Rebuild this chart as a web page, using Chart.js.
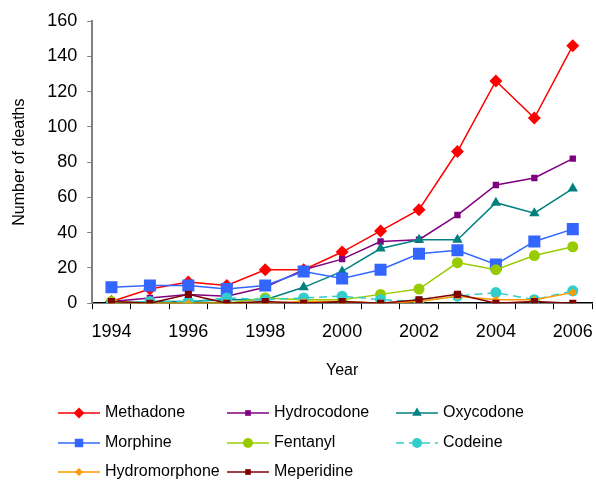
<!DOCTYPE html>
<html>
<head>
<meta charset="utf-8">
<script src="https://cdn.jsdelivr.net/npm/chart.js@4/dist/chart.umd.min.js"></script>
<style>
  body { margin: 0; background: #fff; }
  #wrap { width: 596px; height: 481px; }
</style>
</head>
<body>
<div id="wrap"><canvas id="deathsChart"></canvas></div>
<script>
const years = ['1994','1995','1996','1997','1998','1999','2000','2001','2002','2003','2004','2005','2006'];
const yTicks = [0, 20, 40, 60, 80, 100, 120, 140, 160];

const methadone     = [1, 8, 12, 10, 19, 19, 29, 41, 53, 86, 126, 105, 146];
const hydrocodone   = [1, 3, 5, 4, 9, 19, 25, 35, 36, 50, 67, 71, 82];
const oxycodone     = [0, 1, 1, 2, 2, 9, 18, 31, 36, 36, 57, 51, 65];
const morphine      = [9, 10, 10, 8, 10, 18, 14, 19, 28, 30, 22, 35, 42];
const fentanyl      = [1, 0, 0, 0, 3, 2, 2, 5, 8, 23, 19, 27, 32];
const codeine       = [0, 1, 1, 3, 2, 3, 4, 2, 1, 4, 6, 2, 7];
const hydromorphone = [0, 0, 0, 0, 0, 1, 1, 0, 1, 4, 2, 2, 6];
const meperidine    = [1, 0, 5, 0, 1, 0, 1, 0, 2, 5, 0, 1, 0];

const FONT = '"Liberation Sans", Arial, sans-serif';

function series(label, data, color, style, radius, order, dash) {
  return {
    label: label,
    data: data,
    borderColor: color,
    backgroundColor: color,
    borderWidth: 1.5,
    borderDash: dash || [],
    pointStyle: style,
    pointRadius: radius,
    pointHoverRadius: radius,
    pointBorderWidth: 0,
    tension: 0,
    order: order
  };
}

// legend laid out in three fixed columns like the original
const gridLegend = {
  id: 'gridLegend',
  afterDraw(chart) {
    const ctx = chart.ctx;
    const colX = [58, 227, 396];
    const rowY = [413, 443, 472];
    ctx.save();
    ctx.font = '16px ' + FONT;
    ctx.textBaseline = 'middle';
    chart.data.datasets.forEach((ds, i) => {
      const x = colX[i % 3];
      const y = rowY[Math.floor(i / 3)];
      ctx.strokeStyle = ds.borderColor;
      ctx.lineWidth = 1.5;
      ctx.setLineDash(ds.borderDash);
      ctx.beginPath();
      ctx.moveTo(x, y);
      ctx.lineTo(x + 42, y);
      ctx.stroke();
      ctx.setLineDash([]);
      ctx.fillStyle = ds.backgroundColor;
      Chart.helpers.drawPoint(ctx, {
        pointStyle: ds.pointStyle,
        radius: ds.legendRadius,
        borderWidth: 0
      }, x + 21, y);
      ctx.fillStyle = '#000';
      ctx.fillText(ds.label, x + 47, y);
    });
    ctx.restore();
  }
};

const datasets = [
  series('Methadone', methadone, '#FF0000', 'rectRot', 6.5, 8),
  series('Hydrocodone', hydrocodone, '#800080', 'rect', 4.5, 7),
  series('Oxycodone', oxycodone, '#008080', 'triangle', 6, 6),
  series('Morphine', morphine, '#3366FF', 'rect', 8.5, 5),
  series('Fentanyl', fentanyl, '#99CC00', 'circle', 5.5, 4),
  series('Codeine', codeine, '#33CCCC', 'circle', 5.5, 3, [8, 5]),
  series('Hydromorphone', hydromorphone, '#FF9900', 'rectRot', 4, 2),
  series('Meperidine', meperidine, '#800000', 'rect', 5, 1)
];
const legendRadii = [5.5, 4, 5.5, 6, 5, 5, 4, 4];
datasets.forEach((d, i) => { d.legendRadius = legendRadii[i]; });

new Chart(document.getElementById('deathsChart'), {
  type: 'line',
  data: { labels: years, datasets: datasets },
  plugins: [gridLegend],
  options: {
    responsive: true,
    maintainAspectRatio: false,
    animation: false,
    layout: { autoPadding: false, padding: { left: 10, right: 4, top: 21, bottom: 101 } },
    plugins: {
      legend: { display: false },
      tooltip: { enabled: false }
    },
    scales: {
      x: {
        offset: true,
        afterFit: function(scale) {
          scale.paddingLeft = 0;
          scale.paddingRight = 0;
        },
        grid: {
          offset: true,
          drawOnChartArea: false,
          drawTicks: true,
          tickLength: 6,
          color: '#000'
        },
        border: { color: '#000', width: 1.5 },
        ticks: {
          autoSkip: false,
          maxRotation: 0,
          color: '#000',
          font: { family: FONT, size: 18 },
          padding: 12,
          callback: function(v, i) { return i % 2 === 0 ? years[i] : ''; }
        },
        title: {
          display: true,
          text: 'Year',
          color: '#000',
          font: { family: FONT, size: 16 },
          padding: { top: 6, bottom: 0 }
        }
      },
      y: {
        min: 0,
        max: 160,
        afterBuildTicks: function(axis) {
          axis.ticks = yTicks.map(v => ({ value: v }));
        },
        grid: {
          drawOnChartArea: false,
          drawTicks: true,
          tickLength: 5,
          color: '#808080'
        },
        border: { color: '#808080', width: 2 },
        ticks: {
          color: '#000',
          font: { family: FONT, size: 18 },
          padding: 10
        },
        title: {
          display: true,
          text: 'Number of deaths',
          color: '#000',
          font: { family: FONT, size: 16 },
          padding: { top: 0, bottom: 8 }
        }
      }
    }
  }
});
</script>
</body>
</html>
